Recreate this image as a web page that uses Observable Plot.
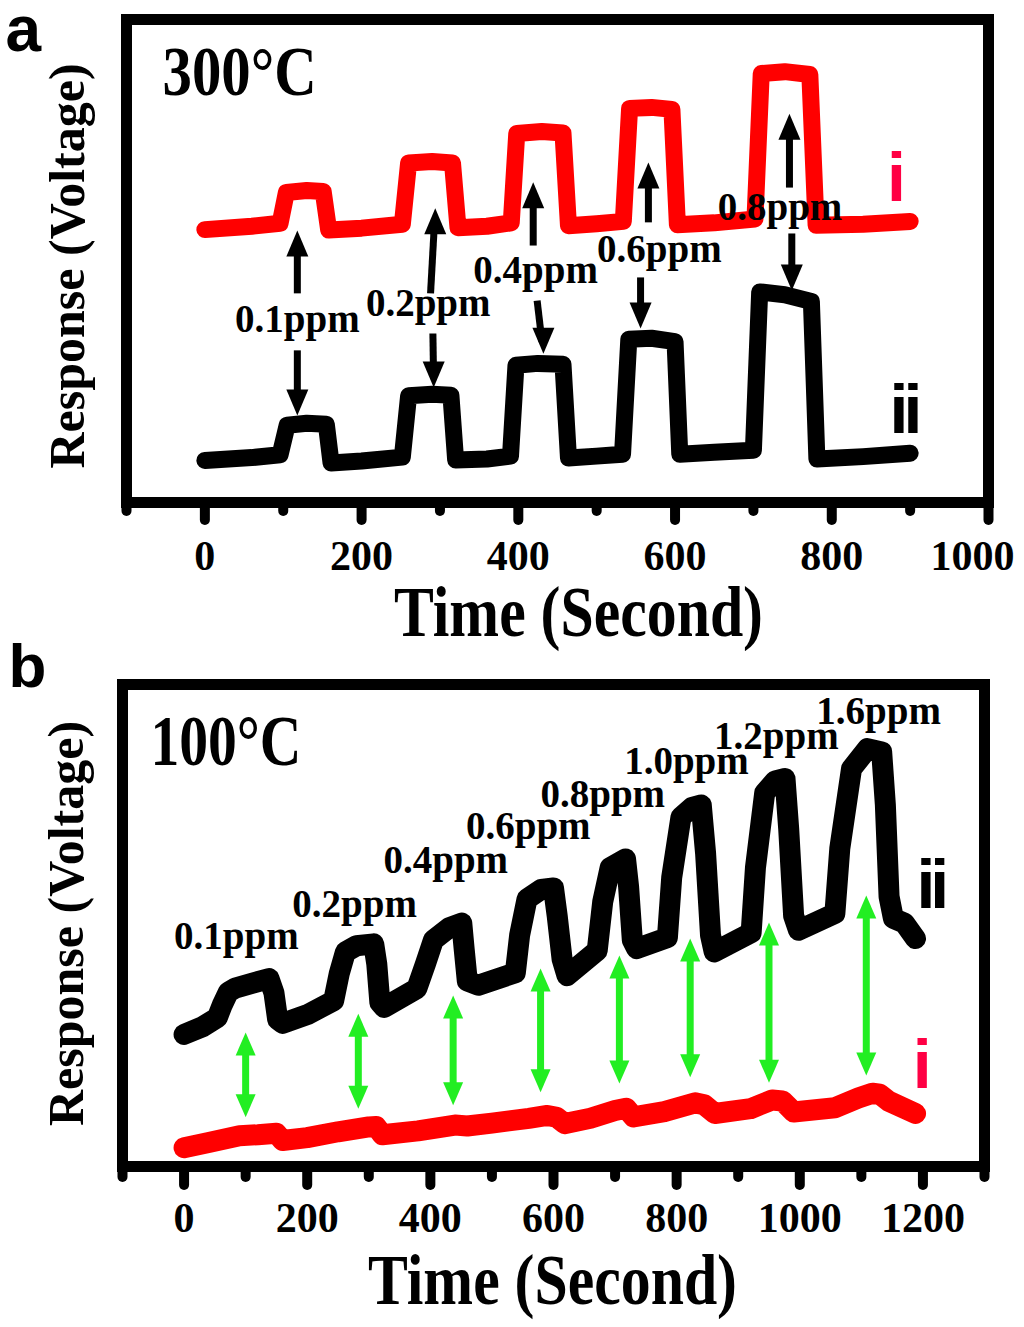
<!DOCTYPE html>
<html><head><meta charset="utf-8">
<script src="https://cdn.jsdelivr.net/npm/d3@7"></script>
<script src="https://cdn.jsdelivr.net/npm/@observablehq/plot@0.6"></script>
<style>
body{margin:0;background:#fff}
#chart svg{display:block}
</style>
</head><body><div id="chart"></div>
<script>
// ---------- Panel a (300 °C) ----------
const majorTicksA = [0, 200, 400, 600, 800, 1000];
const minorTicksA = [-100, 100, 300, 500, 700, 900];
const redTimeA = [0, 60, 96, 104, 130, 151, 158, 200, 252, 260, 290, 316, 323, 360, 391, 398, 430, 457, 464, 500, 534, 542, 570, 596, 603, 650, 702, 710, 740, 772, 780, 840, 900];
const redRespA = [56.5, 57.2, 57.8, 64.2, 64.6, 64.4, 56.4, 56.8, 57.6, 70.3, 70.6, 70.3, 56.9, 57.2, 57.9, 76.4, 76.8, 76.5, 57.3, 57.7, 58.2, 81.6, 81.8, 81.4, 57.5, 57.9, 58.7, 88.8, 89.2, 88.6, 57.4, 57.6, 58.2];
const blackTimeA = [0, 60, 96, 105, 130, 155, 161, 200, 252, 260, 290, 314, 320, 360, 390, 397, 425, 457, 464, 500, 533, 541, 570, 600, 606, 650, 700, 708, 740, 774, 781, 840, 900];
const blackRespA = [8.7, 9.3, 9.9, 16.0, 16.4, 16.2, 8.2, 8.6, 9.4, 22.1, 22.4, 22.2, 8.8, 9.0, 9.6, 28.4, 28.8, 28.6, 9.2, 9.6, 10.0, 33.8, 34.0, 33.3, 10.0, 10.4, 10.8, 43.6, 43.0, 41.6, 9.0, 9.5, 10.2];
const concLabelsA = ["0.1ppm", "0.2ppm", "0.4ppm", "0.6ppm", "0.8ppm"];
const labelTimeA = [118, 285, 422, 580, 734];
const labelRespA = [35.2, 38.7, 45.5, 49.7, 58.4];
const upFromTimeA = [118, 288, 419, 566, 746];
const upFromA = [43.3, 43.3, 53.2, 58.0, 65.2];
const upTipTimeA = [118, 294, 419, 566, 746];
const upTipA = [56.3, 60.9, 66.3, 70.4, 80.5];
const downFromTimeA = [118, 291, 424, 556, 749];
const downFromA = [31.5, 35.0, 41.8, 46.6, 55.7];
const downTipTimeA = [118, 292, 432, 556, 749];
const downTipA = [18.0, 23.8, 30.8, 36.0, 43.9];

// ---------- Panel b (100 °C) ----------
const majorTicksB = [0, 200, 400, 600, 800, 1000, 1200];
const minorTicksB = [-100, 100, 300, 500, 700, 900, 1100, 1300];
const blackTimeB = [0, 30, 54, 62, 72, 83, 110, 138, 146, 152, 160, 200, 243, 252, 262, 280, 308, 313, 318, 325, 378, 392, 405, 430, 451, 455, 460, 478, 538, 545, 557, 580, 600, 606, 614, 622, 671, 680, 692, 717, 722, 728, 735, 785, 792, 807, 825, 840, 847, 855, 861, 921, 928, 943, 960, 976, 982, 990, 998, 1057, 1065, 1084, 1110, 1133, 1139, 1145, 1152, 1170, 1188];
const blackRespB = [27.4, 29.0, 30.9, 33.5, 36.2, 37.0, 38.0, 39.0, 36.0, 30.5, 29.7, 31.5, 34.4, 40.0, 44.5, 45.8, 46.2, 42.0, 34.0, 33.0, 36.9, 42.0, 47.0, 49.5, 50.5, 45.0, 38.5, 37.6, 40.2, 48.0, 55.5, 57.5, 57.8, 52.0, 43.0, 39.6, 44.8, 55.0, 62.0, 63.8, 58.0, 47.0, 45.2, 47.5, 60.0, 72.5, 74.5, 75.0, 65.0, 48.0, 44.5, 48.5, 62.0, 77.5, 80.0, 80.5, 70.0, 52.0, 49.0, 52.5, 66.0, 82.5, 86.7, 86.0, 75.0, 56.0, 51.5, 50.5, 47.3];
const redTimeB = [0, 40, 90, 120, 150, 160, 200, 250, 300, 312, 322, 380, 440, 460, 500, 560, 590, 605, 618, 660, 700, 718, 730, 780, 830, 845, 862, 920, 955, 972, 990, 1057, 1095, 1118, 1130, 1145, 1188];
const redRespB = [3.9, 5.0, 6.4, 6.6, 6.9, 5.4, 6.0, 7.2, 8.2, 8.3, 6.6, 7.4, 8.6, 8.4, 9.0, 10.0, 10.6, 10.2, 8.9, 10.0, 11.6, 12.1, 10.3, 11.4, 13.2, 12.8, 11.0, 12.0, 13.8, 13.6, 11.3, 12.2, 14.2, 15.2, 15.0, 13.5, 11.0];
const concLabelsB = ["0.1ppm", "0.2ppm", "0.4ppm", "0.6ppm", "0.8ppm", "1.0ppm", "1.2ppm", "1.6ppm"];
const labelTimeB = [85, 277, 425, 559, 680, 816, 962, 1128];
const labelRespB = [45.2, 51.7, 60.8, 68.0, 74.5, 81.5, 86.7, 91.9];
const greenTimeB = [100, 283, 437, 579, 707, 822, 950, 1108];
const greenTopB = [27.8, 31.7, 35.5, 41.1, 43.8, 47.3, 50.6, 56.2];
const greenBottomB = [10.2, 12.0, 12.7, 15.4, 17.2, 18.5, 17.4, 18.9];

// ---------- helpers ----------
const serif = "'Liberation Serif', 'Times New Roman', serif";
const sans = "'Liberation Sans', Arial, sans-serif";
const zip = (ts, vs) => ts.map((t, i) => ({t, v: vs[i]}));
const head = (w, h, dir) => ({draw(ctx) { ctx.moveTo(0, 0); ctx.lineTo(-w / 2, dir * h); ctx.lineTo(w / 2, dir * h); ctx.closePath(); }});

const redA = zip(redTimeA, redRespA), blackA = zip(blackTimeA, blackRespA);
const labelsA = concLabelsA.map((s, i) => ({s, t: labelTimeA[i], v: labelRespA[i]}));
const upA = upTipA.map((v, i) => ({t1: upFromTimeA[i], v1: upFromA[i], t2: upTipTimeA[i], v2: v}));
const downA = downTipA.map((v, i) => ({t1: downFromTimeA[i], v1: downFromA[i], t2: downTipTimeA[i], v2: v}));

const redB = zip(redTimeB, redRespB), blackB = zip(blackTimeB, blackRespB);
const labelsB = concLabelsB.map((s, i) => ({s, t: labelTimeB[i], v: labelRespB[i]}));
const greenB = greenTimeB.map((t, i) => ({t, top: greenTopB[i], bottom: greenBottomB[i]}));

const traceStyle = {strokeLinejoin: "round", strokeLinecap: "round"};
const tickText = {tickSize: 0, fontSize: 42, fontWeight: "bold", fontFamily: serif, tickFormat: d => `${d}`, label: null};

const plotA = Plot.plot({
  width: 1024, height: 640,
  marginTop: 19, marginBottom: 138, marginLeft: 126, marginRight: 36,
  x: {domain: [-100, 1000]},
  y: {domain: [0, 100], axis: null},
  style: {fontFamily: serif, fontWeight: "bold", background: "white", overflow: "visible", color: "black"},
  marks: [
    Plot.axisX(minorTicksA, {tickSize: 9, strokeWidth: 10, strokeLinecap: "round", fill: "none", label: null}),
    Plot.axisX(majorTicksA, {tickSize: 18, strokeWidth: 10, strokeLinecap: "round", fill: "none", label: null}),
    Plot.axisX(majorTicksA.slice(0, -1), {...tickText, tickPadding: 38}),
    Plot.axisX(majorTicksA.slice(-1), {...tickText, tickPadding: 38, dx: -16}),
    Plot.frame({strokeWidth: 11}),
    Plot.line(redA, {x: "t", y: "v", stroke: "#ff0000", strokeWidth: 17, ...traceStyle}),
    Plot.line(blackA, {x: "t", y: "v", stroke: "#000", strokeWidth: 17, ...traceStyle}),
    Plot.arrow(upA, {x1: "t1", y1: "v1", x2: "t2", y2: "v2", headLength: 0, insetEnd: 12, strokeWidth: 7, stroke: "#000", strokeLinecap: "butt"}),
    Plot.dot(upA, {x: "t2", y: "v2", symbol: head(22, 26, 1), fill: "#000", stroke: "none"}),
    Plot.arrow(downA, {x1: "t1", y1: "v1", x2: "t2", y2: "v2", headLength: 0, insetEnd: 12, strokeWidth: 7, stroke: "#000", strokeLinecap: "butt"}),
    Plot.dot(downA, {x: "t2", y: "v2", symbol: head(22, 26, -1), fill: "#000", stroke: "none"}),
    Plot.text(labelsA, {x: "t", y: "v", text: "s", fontSize: 39, fontWeight: "bold", fontFamily: serif, lineAnchor: "bottom", textAnchor: "middle", fill: "#000"}),
    Plot.text(["300°C"], {x: -54, y: 84.3, fontSize: 70, fontWeight: "bold", fontFamily: serif, textAnchor: "start", lineAnchor: "bottom", fill: "#000"}),
    Plot.text(["i"], {x: 882.6, y: 62.5, fontSize: 68, fontWeight: "bold", fontFamily: sans, textAnchor: "middle", lineAnchor: "bottom", fill: "#ff0044"}),
    Plot.text(["ii"], {x: 891.5, y: 14.3, fontSize: 68, fontWeight: "bold", fontFamily: sans, textAnchor: "middle", lineAnchor: "bottom", fill: "#000"}),
    Plot.text(["Response (Voltage)"], {frameAnchor: "left", rotate: -90, dx: -43, dy: 5, fontSize: 50, fontWeight: "bold", fontFamily: serif, textAnchor: "middle", lineAnchor: "bottom", fill: "#000"}),
    Plot.text(["Time (Second)"], {frameAnchor: "bottom", dx: 21, dy: 133, fontSize: 72, fontWeight: "bold", fontFamily: serif, textAnchor: "middle", lineAnchor: "bottom", fill: "#000"}),
    Plot.text(["a"], {frameAnchor: "top-left", dx: -121, dy: 31, fontSize: 64, fontWeight: "bold", fontFamily: sans, textAnchor: "start", lineAnchor: "bottom", fill: "#000"})
  ]
});

const plotB = Plot.plot({
  width: 1024, height: 687,
  marginTop: 44, marginBottom: 161, marginLeft: 122, marginRight: 40,
  x: {domain: [-100, 1300]},
  y: {domain: [0, 100], axis: null},
  style: {fontFamily: serif, fontWeight: "bold", background: "white", overflow: "visible", color: "black"},
  marks: [
    Plot.axisX(minorTicksB, {tickSize: 11, strokeWidth: 10, strokeLinecap: "round", fill: "none", label: null}),
    Plot.axisX(majorTicksB, {tickSize: 19, strokeWidth: 10, strokeLinecap: "round", fill: "none", label: null}),
    Plot.axisX(majorTicksB, {...tickText, tickPadding: 36}),
    Plot.frame({strokeWidth: 11}),
    Plot.line(redB, {x: "t", y: "v", stroke: "#ff0000", strokeWidth: 21, ...traceStyle}),
    Plot.line(blackB, {x: "t", y: "v", stroke: "#000", strokeWidth: 21, ...traceStyle}),
    Plot.arrow(greenB, {x1: "t", y1: "top", x2: "t", y2: "bottom", headLength: 0, insetStart: 12, insetEnd: 12, strokeWidth: 7, stroke: "#22ee22", strokeLinecap: "butt"}),
    Plot.dot(greenB, {x: "t", y: "top", symbol: head(20, 23, 1), fill: "#22ee22", stroke: "none"}),
    Plot.dot(greenB, {x: "t", y: "bottom", symbol: head(20, 23, -1), fill: "#22ee22", stroke: "none"}),
    Plot.text(labelsB, {x: "t", y: "v", text: "s", fontSize: 39, fontWeight: "bold", fontFamily: serif, lineAnchor: "bottom", textAnchor: "middle", fill: "#000"}),
    Plot.text(["100°C"], {x: -54.6, y: 83.2, fontSize: 72, fontWeight: "bold", fontFamily: serif, textAnchor: "start", lineAnchor: "bottom", fill: "#000"}),
    Plot.text(["ii"], {x: 1212, y: 53.7, fontSize: 68, fontWeight: "bold", fontFamily: sans, textAnchor: "middle", lineAnchor: "bottom", fill: "#000"}),
    Plot.text(["i"], {x: 1199, y: 16.2, fontSize: 68, fontWeight: "bold", fontFamily: sans, textAnchor: "middle", lineAnchor: "bottom", fill: "#ff0044"}),
    Plot.text(["Response (Voltage)"], {frameAnchor: "left", rotate: -90, dx: -40, dy: -2, fontSize: 50, fontWeight: "bold", fontFamily: serif, textAnchor: "middle", lineAnchor: "bottom", fill: "#000"}),
    Plot.text(["Time (Second)"], {frameAnchor: "bottom", dx: -1, dy: 137, fontSize: 72, fontWeight: "bold", fontFamily: serif, textAnchor: "middle", lineAnchor: "bottom", fill: "#000"}),
    Plot.text(["b"], {frameAnchor: "top-left", dx: -114, dy: 2, fontSize: 62, fontWeight: "bold", fontFamily: sans, textAnchor: "start", lineAnchor: "bottom", fill: "#000"})
  ]
});

// horizontal condensing of the large serif labels (style only)
const condense = {"300°C": 0.84, "100°C": 0.8, "Time (Second)": 0.83};
function restyle(svg) {
  svg.querySelectorAll("text").forEach(el => {
    const s = el.textContent;
    if (condense[s]) {
      const tr = el.getAttribute("transform");
      if (tr) el.setAttribute("transform", tr + ` scale(${condense[s]},1)`);
      else {
        const x = +el.getAttribute("x") || 0, y = +el.getAttribute("y") || 0;
        el.setAttribute("transform", `translate(${x},${y}) scale(${condense[s]},1) translate(${-x},${-y})`);
      }
    }
    if (s === "ii") el.style.letterSpacing = "-5px";
  });
  svg.querySelectorAll("[aria-label='x-axis tick'] path, [aria-label='x-axis tick']").forEach(el => el.setAttribute("stroke-linecap", "round"));
}
restyle(plotA); restyle(plotB);
document.getElementById("chart").append(plotA, plotB);
</script>
</body></html>
